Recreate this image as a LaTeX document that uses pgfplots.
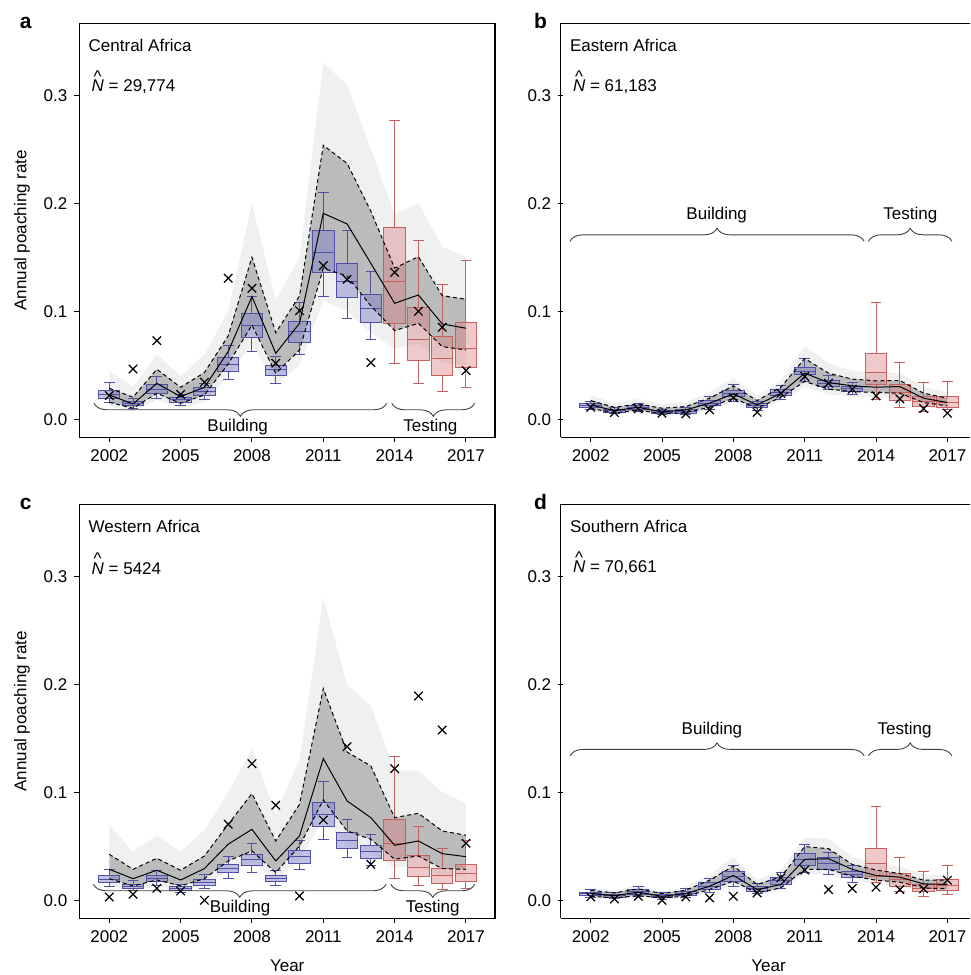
\documentclass[border=0pt]{standalone}
\usepackage{pgfplots}
\pgfplotsset{compat=1.18}
\usepackage{pgfplotstable}
\usepgfplotslibrary{statistics,fillbetween}
\usetikzlibrary{decorations.pathreplacing}
\usepackage{fontspec}
\setmainfont{Liberation Sans}

\definecolor{bline}{RGB}{80,80,165}
\definecolor{bfill}{RGB}{120,120,195}
\definecolor{rline}{RGB}{200,95,95}
\definecolor{rfill}{RGB}{215,115,115}

% columns: whiskers/quartiles/median of the boxes, observed rate (x),
% median trajectory, dashed bounds, outer envelope of the grey cloud
\pgfplotstableread{
yr   lo     q1     med    q3     hi     obs    mid    up     dn     oup   odn
2002 0.0157 0.0194 0.0231 0.0270 0.0340 0.0220 0.0225 0.0287 0.0157 0.045 0.012
2003 0.0102 0.0123 0.0142 0.0164 0.0194 0.0466 0.0142 0.0204 0.0102 0.030 0.007
2004 0.0194 0.0240 0.0278 0.0324 0.0395 0.0728 0.0333 0.0463 0.0240 0.060 0.018
2005 0.0127 0.0157 0.0179 0.0204 0.0231 0.0230 0.0210 0.0296 0.0148 0.040 0.010
2006 0.0179 0.0219 0.0256 0.0293 0.0333 0.0343 0.0296 0.0432 0.0225 0.060 0.016
2007 0.0364 0.0441 0.0503 0.0574 0.0682 0.1306 0.0627 0.0772 0.0512 0.100 0.040
2008 0.0627 0.0759 0.0867 0.0975 0.1136 0.1213 0.1136 0.1500 0.0873 0.200 0.070
2009 0.0333 0.0401 0.0457 0.0500 0.0580 0.0519 0.0611 0.0802 0.0426 0.110 0.033
2010 0.0602 0.0713 0.0812 0.0910 0.1080 0.1006 0.0889 0.1142 0.0642 0.150 0.050
2011 0.1136 0.1355 0.1546 0.1750 0.2099 0.1423 0.1907 0.2537 0.1398 0.330 0.110
2012 0.0932 0.1130 0.1280 0.1444 0.1747 0.1296 0.1809 0.2370 0.1327 0.310 0.100
2013 0.0741 0.0895 0.1022 0.1151 0.1367 0.0525 0.1444 0.1926 0.1050 0.250 0.080
2014 0.0519 0.0883 0.1280 0.1778 0.2770 0.1361 0.1074 0.1400 0.0821 0.190 0.065
2015 0.0327 0.0543 0.0741 0.1034 0.1660 0.1000 0.1151 0.1506 0.0889 0.200 0.070
2016 0.0259 0.0407 0.0559 0.0765 0.1244 0.0852 0.0883 0.1145 0.0673 0.160 0.052
2017 0.0290 0.0478 0.0651 0.0898 0.1469 0.0451 0.0843 0.1111 0.0642 0.150 0.050
}\tabA

\pgfplotstableread{
yr   lo     q1     med    q3     hi     obs    mid    up     dn     oup   odn
2002 0.0087 0.0105 0.0124 0.0142 0.0164 0.0111 0.0133 0.0173 0.0102 0.022 0.008
2003 0.0050 0.0065 0.0077 0.0093 0.0111 0.0062 0.0080 0.0111 0.0056 0.015 0.004
2004 0.0068 0.0087 0.0105 0.0124 0.0142 0.0096 0.0111 0.0142 0.0087 0.019 0.006
2005 0.0040 0.0050 0.0065 0.0080 0.0093 0.0056 0.0068 0.0102 0.0050 0.014 0.003
2006 0.0040 0.0056 0.0074 0.0093 0.0111 0.0050 0.0087 0.0118 0.0062 0.016 0.004
2007 0.0093 0.0124 0.0149 0.0173 0.0211 0.0087 0.0149 0.0195 0.0111 0.025 0.008
2008 0.0164 0.0211 0.0238 0.0266 0.0319 0.0201 0.0235 0.0310 0.0195 0.038 0.016
2009 0.0080 0.0105 0.0124 0.0142 0.0164 0.0065 0.0133 0.0173 0.0102 0.022 0.008
2010 0.0180 0.0217 0.0248 0.0272 0.0310 0.0241 0.0241 0.0297 0.0204 0.036 0.017
2011 0.0350 0.0412 0.0443 0.0483 0.0567 0.0396 0.0427 0.0563 0.0350 0.068 0.030
2012 0.0272 0.0303 0.0334 0.0359 0.0402 0.0334 0.0340 0.0427 0.0279 0.052 0.023
2013 0.0226 0.0257 0.0282 0.0303 0.0340 0.0279 0.0310 0.0372 0.0257 0.045 0.021
2014 0.0180 0.0319 0.0437 0.0607 0.1084 0.0217 0.0297 0.0356 0.0248 0.043 0.020
2015 0.0108 0.0173 0.0248 0.0319 0.0526 0.0189 0.0303 0.0359 0.0241 0.043 0.019
2016 0.0071 0.0118 0.0161 0.0211 0.0340 0.0099 0.0195 0.0241 0.0155 0.030 0.012
2017 0.0093 0.0111 0.0155 0.0211 0.0347 0.0056 0.0155 0.0195 0.0124 0.025 0.009
}\tabB

\pgfplotstableread{
yr   lo     q1     med    q3     hi     obs    mid    up     dn     oup   odn
2002 0.0127 0.0164 0.0194 0.0225 0.0281 0.0031 0.0287 0.0426 0.0200 0.070 0.014
2003 0.0086 0.0108 0.0127 0.0148 0.0179 0.0056 0.0200 0.0287 0.0133 0.045 0.009
2004 0.0133 0.0170 0.0204 0.0231 0.0272 0.0111 0.0278 0.0389 0.0188 0.060 0.013
2005 0.0071 0.0086 0.0108 0.0127 0.0148 0.0086 0.0188 0.0278 0.0133 0.045 0.009
2006 0.0111 0.0139 0.0164 0.0194 0.0235 0.0000 0.0293 0.0410 0.0200 0.065 0.014
2007 0.0204 0.0256 0.0293 0.0333 0.0410 0.0704 0.0519 0.0704 0.0364 0.100 0.027
2008 0.0256 0.0318 0.0373 0.0426 0.0525 0.1265 0.0657 0.0988 0.0457 0.140 0.035
2009 0.0133 0.0170 0.0200 0.0225 0.0272 0.0880 0.0364 0.0549 0.0256 0.080 0.018
2010 0.0287 0.0343 0.0401 0.0457 0.0556 0.0040 0.0596 0.0889 0.0503 0.130 0.038
2011 0.0565 0.0682 0.0796 0.0904 0.1096 0.0744 0.1312 0.1960 0.0929 0.280 0.075
2012 0.0395 0.0478 0.0549 0.0627 0.0744 0.1423 0.0920 0.1373 0.0642 0.200 0.050
2013 0.0318 0.0386 0.0448 0.0503 0.0605 0.0333 0.0765 0.1244 0.0565 0.180 0.045
2014 0.0204 0.0364 0.0528 0.0750 0.1330 0.1219 0.0509 0.0765 0.0380 0.120 0.030
2015 0.0133 0.0219 0.0302 0.0417 0.0682 0.1892 0.0549 0.0806 0.0410 0.120 0.032
2016 0.0102 0.0154 0.0225 0.0293 0.0478 0.1577 0.0432 0.0642 0.0293 0.100 0.022
2017 0.0108 0.0173 0.0247 0.0333 0.0549 0.0528 0.0404 0.0602 0.0287 0.090 0.022
}\tabC

\pgfplotstableread{
yr   lo     q1     med    q3     hi     obs    mid    up     dn     oup   odn
2002 0.0028 0.0043 0.0059 0.0075 0.0099 0.0031 0.0062 0.0093 0.0037 0.012 0.002
2003 0.0012 0.0025 0.0040 0.0056 0.0075 0.0012 0.0043 0.0068 0.0022 0.009 0.001
2004 0.0031 0.0053 0.0078 0.0099 0.0124 0.0037 0.0075 0.0106 0.0043 0.014 0.003
2005 0.0006 0.0022 0.0037 0.0053 0.0068 0.0000 0.0037 0.0062 0.0022 0.008 0.001
2006 0.0022 0.0043 0.0062 0.0081 0.0106 0.0031 0.0062 0.0093 0.0037 0.012 0.002
2007 0.0068 0.0099 0.0130 0.0161 0.0205 0.0022 0.0130 0.0186 0.0099 0.024 0.007
2008 0.0130 0.0177 0.0224 0.0270 0.0323 0.0037 0.0230 0.0317 0.0177 0.040 0.014
2009 0.0062 0.0084 0.0106 0.0130 0.0155 0.0068 0.0099 0.0146 0.0068 0.019 0.005
2010 0.0106 0.0146 0.0183 0.0214 0.0261 0.0208 0.0146 0.0217 0.0115 0.028 0.009
2011 0.0261 0.0323 0.0379 0.0435 0.0519 0.0280 0.0379 0.0497 0.0286 0.058 0.024
2012 0.0239 0.0286 0.0339 0.0394 0.0447 0.0099 0.0385 0.0478 0.0286 0.057 0.024
2013 0.0168 0.0208 0.0239 0.0270 0.0323 0.0109 0.0286 0.0332 0.0224 0.040 0.019
2014 0.0168 0.0217 0.0342 0.0478 0.0870 0.0121 0.0230 0.0280 0.0186 0.034 0.015
2015 0.0084 0.0124 0.0193 0.0248 0.0394 0.0099 0.0214 0.0248 0.0168 0.031 0.013
2016 0.0037 0.0084 0.0112 0.0146 0.0270 0.0106 0.0152 0.0186 0.0115 0.024 0.009
2017 0.0053 0.0093 0.0137 0.0193 0.0323 0.0186 0.0146 0.0186 0.0106 0.023 0.008
}\tabD

\newcommand\fs{\fontsize{8.5}{10}\selectfont}

% x is plotted as years after 2000 (keeps TeX dimensions small)
\pgfplotsset{
  panel/.style={
    scale only axis, anchor=north west, height=207pt,
    xmin=0.74, ymin=-0.0167, ymax=0.3667,
    xtick={2,5,...,17}, xticklabels={2002,2005,2008,2011,2014,2017},
    ytick={0,0.1,0.2,0.3},
    tick align=outside, xtick pos=left, ytick pos=left,
    major tick length=2.5pt,
    /pgf/number format/assume math mode=true,
    y tick label style={/pgf/number format/.cd, fixed, fixed zerofill, precision=1},
    tick label style={font=\fs, black},
    axis line style={line width=0.6pt},
    tick style={black, line width=0.5pt},
  },
  full/.style={panel, xmax=18.22, width=207.85pt},
  cut/.style={panel, xmax=17.95, width=204.65pt,
    axis x line=box, axis y line=left, axis line style={-},
    xtick pos=left, ytick pos=left},
  dashln/.style={black, line width=0.5pt, dash pattern=on 2pt off 1.5pt},
  bbox/.style={draw=bline, line width=0.5pt, fill=bfill, fill opacity=0.45},
  rbox/.style={draw=rline, line width=0.5pt, fill=rfill, fill opacity=0.38},
}

% one box for row #2 of table #1, drawn with style #3
\newcommand\onebox[3]{%
  \pgfplotstablegetelem{#2}{lo}\of{#1}\let\vlo\pgfplotsretval
  \pgfplotstablegetelem{#2}{q1}\of{#1}\let\vqa\pgfplotsretval
  \pgfplotstablegetelem{#2}{med}\of{#1}\let\vmd\pgfplotsretval
  \pgfplotstablegetelem{#2}{q3}\of{#1}\let\vqb\pgfplotsretval
  \pgfplotstablegetelem{#2}{hi}\of{#1}\let\vhi\pgfplotsretval
  \pgfplotstablegetelem{#2}{yr}\of{#1}%
  \pgfmathtruncatemacro\vyr{\pgfplotsretval-2000}%
  \edef\doit{\noexpand\addplot[#3, boxplot prepared={draw direction=y,
      draw position=\vyr,
      lower whisker=\vlo, lower quartile=\vqa, median=\vmd,
      upper quartile=\vqb, upper whisker=\vhi,
      box extend=0.9, whisker extend=0.45}] coordinates {};}%
  \doit
}

\newcommand\colplot[2]{\addplot[#2] table[x expr=\thisrow{yr}-2000, y=#1]}

% all plots of one panel, from one table
\newcommand\panelbody[1]{%
  \colplot{oup}{name path=oup, draw=none}{#1};
  \colplot{odn}{name path=odn, draw=none}{#1};
  \addplot[black, fill opacity=0.06, draw=none] fill between[of=oup and odn];
  \colplot{up}{name path=up, draw=none}{#1};
  \colplot{dn}{name path=dn, draw=none}{#1};
  \addplot[black, fill opacity=0.22, draw=none] fill between[of=up and dn];
  \pgfplotsinvokeforeach{0,...,11}{\onebox{#1}{##1}{bbox}}
  \pgfplotsinvokeforeach{12,...,15}{\onebox{#1}{##1}{rbox}}
  \colplot{up}{dashln}{#1};
  \colplot{dn}{dashln}{#1};
  \colplot{mid}{black, line width=0.5pt}{#1};
  \colplot{obs}{only marks, mark=x, mark size=3pt, black, line width=0.6pt}{#1};
}

\newcommand\region[2]{%
  \node[anchor=west, font=\fs, inner sep=0.5pt, xshift=4pt, yshift=-11pt] at (rel axis cs:0,1) {#1};
  \node[anchor=west, font=\fs, inner sep=0.5pt, xshift=5.5pt, yshift=-29.5pt] at (rel axis cs:0,1)
    {\rlap{\hspace{0.12em}\raisebox{0.58em}{\textasciicircum}}\textit{N} = #2};
}

% curly brace from x #1 to #2 at height #3; #4 = extra options (mirror)
\newcommand\curly[4]{%
  \draw[decorate, decoration={brace, amplitude=6.5pt, #4}, line width=0.45pt, black!75]
    (axis cs:#1,#3) -- (axis cs:#2,#3);
}

\begin{document}
\begin{tikzpicture}

% a
\begin{axis}[full, at={(39.65pt,-11.65pt)}]
\panelbody{\tabA}
\curly{1.36}{13.67}{0.0148}{mirror}
\curly{13.88}{17.37}{0.0148}{mirror}
\node[font=\fs] at (axis cs:7.4,-0.0074) {Building};
\node[font=\fs] at (axis cs:15.5,-0.0074) {Testing};
\region{Central Africa}{29,774}
\end{axis}

% b
\begin{axis}[cut, at={(280.35pt,-11.65pt)}]
\panelbody{\tabB}
\curly{1.13}{13.5}{0.1648}{}
\curly{13.68}{17.19}{0.1648}{}
\node[font=\fs] at (axis cs:7.3,0.1888) {Building};
\node[font=\fs] at (axis cs:15.44,0.1888) {Testing};
\region{Eastern Africa}{61,183}
\end{axis}

% c
\begin{axis}[full, at={(39.65pt,-252.15pt)}]
\panelbody{\tabC}
\curly{1.33}{13.64}{0.0148}{mirror}
\curly{13.84}{17.37}{0.0148}{mirror}
\node[font=\fs] at (axis cs:7.5,-0.0070) {Building};
\node[font=\fs] at (axis cs:15.6,-0.0070) {Testing};
\region{Western Africa}{5424}
\end{axis}

% d
\begin{axis}[cut, at={(280.35pt,-252.15pt)}]
\panelbody{\tabD}
\curly{1.13}{13.5}{0.1337}{}
\curly{13.68}{17.19}{0.1337}{}
\node[font=\fs] at (axis cs:7.1,0.158) {Building};
\node[font=\fs] at (axis cs:15.2,0.158) {Testing};
\region{Southern Africa}{70,661}
\end{axis}

% panel letters and shared labels
\node[anchor=base west, font=\fontsize{10.5}{12}\selectfont\bfseries] at (6.35pt,-14pt) {a};
\node[anchor=base west, font=\fontsize{10.5}{12}\selectfont\bfseries] at (263.5pt,-14pt) {b};
\node[anchor=base west, font=\fontsize{10.5}{12}\selectfont\bfseries] at (6.35pt,-254.5pt) {c};
\node[anchor=base west, font=\fontsize{10.5}{12}\selectfont\bfseries] at (263.5pt,-254.5pt) {d};
\node[rotate=90, font=\fs] at (11pt,-115.15pt) {Annual poaching rate};
\node[rotate=90, font=\fs] at (11pt,-355.65pt) {Annual poaching rate};
\node[anchor=base, font=\fs] at (143.6pt,-485.5pt) {Year};
\node[anchor=base, font=\fs] at (384.3pt,-485.5pt) {Year};

\pgfresetboundingbox
\useasboundingbox (0,0) rectangle (485pt,-487.5pt);
\end{tikzpicture}
\end{document}
